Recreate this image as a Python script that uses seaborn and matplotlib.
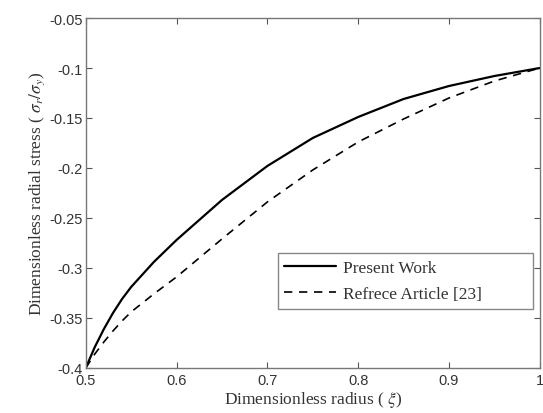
import numpy as np
import pandas as pd
import matplotlib
matplotlib.use("Agg")
import matplotlib.pyplot as plt
import seaborn as sns

# values
radius = [0.5, 0.51, 0.52, 0.53, 0.54, 0.55, 0.575, 0.6, 0.65, 0.7, 0.75, 0.8,
          0.85, 0.9, 0.95, 1.0]
present_work = [-0.4, -0.379, -0.361, -0.345, -0.331, -0.319, -0.294, -0.272,
                -0.232, -0.198, -0.170, -0.149, -0.131, -0.118, -0.108, -0.1]
reference_article = [-0.4, -0.386, -0.374, -0.363, -0.353, -0.344, -0.326, -0.309,
                     -0.271, -0.234, -0.202, -0.174, -0.151, -0.130, -0.113, -0.1]

x_ticks = [0.5, 0.6, 0.7, 0.8, 0.9, 1.0]
x_tick_labels = ['0.5', '0.6', '0.7', '0.8', '0.9', '1']
y_ticks = [-0.4, -0.35, -0.3, -0.25, -0.2, -0.15, -0.1, -0.05]
y_tick_labels = ['-0.4', '-0.35', '-0.3', '-0.25', '-0.2', '-0.15', '-0.1', '-0.05']

sns.set_style("ticks")
plt.rcParams['font.family'] = ['Liberation Sans', 'DejaVu Sans']
plt.rcParams['mathtext.fontset'] = 'stix'
plt.rcParams['xtick.direction'] = 'in'
plt.rcParams['ytick.direction'] = 'in'

df_present = pd.DataFrame({'radius': radius, 'stress': present_work})
df_ref = pd.DataFrame({'radius': radius, 'stress': reference_article})

fig = plt.figure(figsize=(5.43, 4.14), dpi=100)
ax = fig.add_axes([0.158, 0.109, 0.836, 0.845])

sns.lineplot(data=df_present, x='radius', y='stress', ax=ax, color='black',
             linewidth=1.6, label='Present Work')
sns.lineplot(data=df_ref, x='radius', y='stress', ax=ax, color='black',
             linewidth=1.2, linestyle=(0, (5, 4)), label='Refrece Article [23]')

ax.set_xlim(0.5, 1.0)
ax.set_ylim(-0.4, -0.05)
ax.set_xticks(x_ticks)
ax.set_xticklabels(x_tick_labels, fontsize=10.5, color='#333333')
ax.set_yticks(y_ticks)
ax.set_yticklabels(y_tick_labels, fontsize=10.5, color='#333333')
ax.tick_params(top=True, right=True, length=4, width=0.8, color='#555555')
ax.tick_params(axis='y', pad=2)
ax.tick_params(axis='x', pad=4)
for s in ax.spines.values():
    s.set_color('#777777')
    s.set_linewidth(1.0)

ax.set_xlabel(r'Dimensionless radius ( $\xi$)', family='Liberation Serif',
              fontsize=12.5, color='#333333', labelpad=1)
ax.set_ylabel(r'Dimensionless radial stress ( $\sigma_r/\sigma_y$)',
              family='Liberation Serif', fontsize=12.5, color='#333333', labelpad=2)

leg = ax.legend(loc='lower left', bbox_to_anchor=(0.423, 0.169, 0.562, 0.165),
                mode='expand', prop={'family': 'Liberation Serif', 'size': 12.5},
                handlelength=3.0, handletextpad=0.4, fancybox=False, framealpha=1,
                edgecolor='#888888', borderpad=0.37, labelspacing=0.6,
                borderaxespad=0)
leg.get_frame().set_linewidth(1.0)
for t in leg.get_texts():
    t.set_color('#333333')

fig.savefig('out.png', dpi=100)
